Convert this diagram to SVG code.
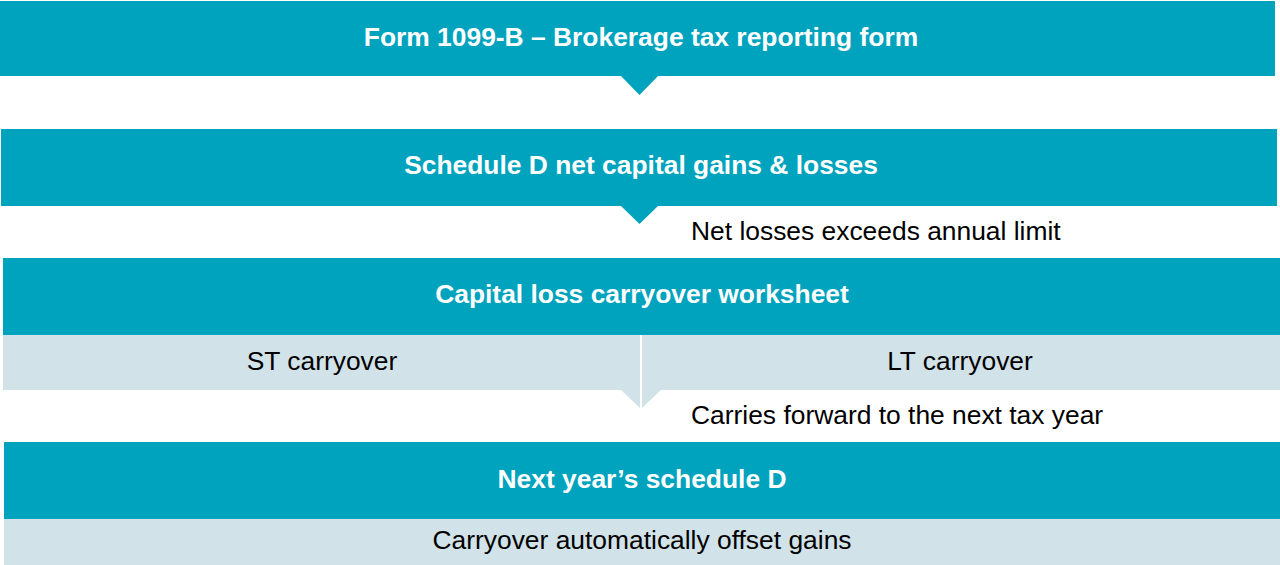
<svg xmlns="http://www.w3.org/2000/svg" width="1280" height="565" viewBox="0 0 1280 565">
<style>
.teal{fill:#00A3BE}
.light{fill:#D1E3E8}
.h{font-family:"Liberation Sans",Arial,sans-serif;font-weight:bold;font-size:26.4px;fill:#FFFFFF;text-anchor:middle}
.t{font-family:"Liberation Sans",Arial,sans-serif;font-size:26.4px;fill:#000000}
.c{text-anchor:middle}
</style>
<rect width="1280" height="565" fill="#FFFFFF"/>
<g id="form1099b">
<rect class="teal" x="0" y="1" width="1275" height="75"/>
<text class="h" x="641" y="46">Form 1099-B – Brokerage tax reporting form</text>
</g>
<g id="scheduleD">
<rect class="teal" x="1" y="129" width="1276" height="77"/>
<text class="h" x="641" y="174">Schedule D net capital gains &amp; losses</text>
</g>
<g id="worksheet">
<rect class="teal" x="3" y="258" width="1277" height="77"/>
<text class="h" x="642" y="303">Capital loss carryover worksheet</text>
<rect class="light" x="3" y="335" width="1277" height="55"/>
<text class="t c" x="322" y="370">ST carryover</text>
<text class="t c" x="960" y="370">LT carryover</text>
</g>
<g id="nextYear">
<rect class="teal" x="4" y="442" width="1276" height="77"/>
<text class="h" x="642" y="488">Next year’s schedule D</text>
<rect class="light" x="4" y="519" width="1276" height="46"/>
<text class="t c" x="642" y="549">Carryover automatically offset gains</text>
</g>
<g id="connectors">
<polygon class="teal" points="620,75 659,75 639.5,95"/>
<polygon class="teal" points="620,205 659,205 639.5,224"/>
<polygon class="light" points="620,389 662,389 641,409"/>
<line x1="641" y1="335" x2="641" y2="409" stroke="#FFFFFF" stroke-width="2"/>
<text class="t" x="691" y="240">Net losses exceeds annual limit</text>
<text class="t" x="691" y="424">Carries forward to the next tax year</text>
</g>
</svg>
